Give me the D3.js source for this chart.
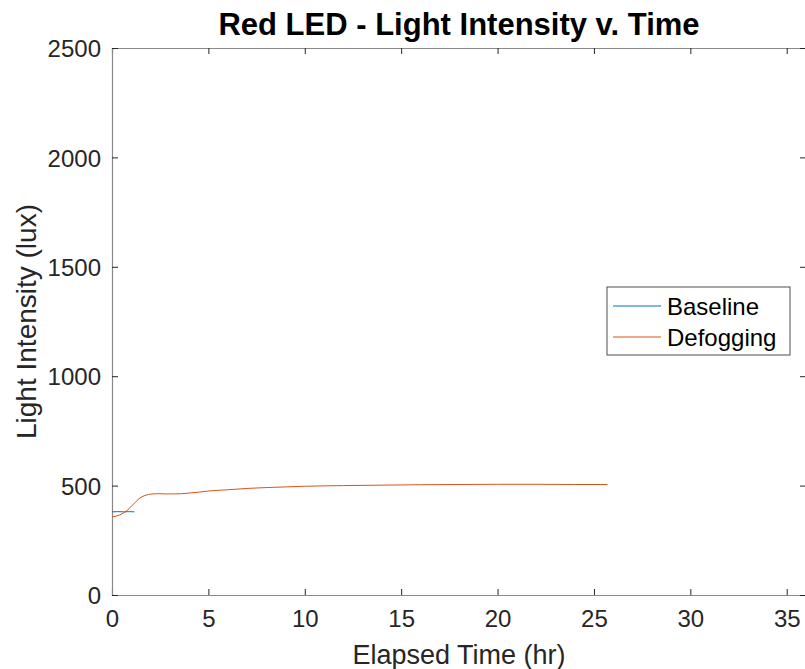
<!DOCTYPE html>
<html>
<head>
<meta charset="utf-8">
<script src="https://cdn.jsdelivr.net/npm/d3@7"></script>
<style>
  body { margin: 0; background: #fff; }
  text { font-family: "Liberation Sans", Arial, Helvetica, sans-serif; }
</style>
</head>
<body>
<script>
const baselineTime = [0, 0.3, 0.6, 0.9, 1.16];
const baselineLux = [380, 381, 380, 381, 380];

const defogTime = [0, 0.2, 0.4, 0.6, 0.8, 1.0, 1.2, 1.4, 1.6, 1.8, 2.0, 2.4, 2.8, 3.2, 3.6, 4.0, 4.5,
                   5, 6, 7, 8, 9, 10, 12, 14, 16, 18, 20, 22, 24, 25.7];
const defogLux = [357, 360, 366, 375, 388, 405, 423, 440, 451, 457, 461, 463, 462, 462, 463, 466, 470,
                  475, 481, 487, 491, 494, 497, 500, 502, 504, 505, 506, 506, 505, 505];

const xTicks = [0, 5, 10, 15, 20, 25, 30, 35];
const yTicks = [0, 500, 1000, 1500, 2000, 2500];
const seriesNames = ['Baseline', 'Defogging'];
const seriesColors = ['#0072BD', '#D95319'];

const width = 805, height = 669;
const margin = { left: 112, right: -1, top: 48, bottom: 74 };

const svg = d3.select('body').append('svg')
  .attr('width', width)
  .attr('height', height);

const x = d3.scaleLinear().domain([0, 36]).range([margin.left, width - margin.right]);
const y = d3.scaleLinear().domain([0, 2500]).range([height - margin.bottom, margin.top]);

const axisColor = '#262626';
const tickLen = 6;
const fmt = d3.format('d');

// axes, ticks pointing inward on all four sides
const xAxis = svg.append('g')
  .attr('transform', `translate(0,${y(0)})`)
  .call(d3.axisBottom(x).tickValues(xTicks).tickSize(-tickLen).tickPadding(15).tickFormat(fmt));
const xAxisTop = svg.append('g')
  .attr('transform', `translate(0,${y(2500)})`)
  .call(d3.axisTop(x).tickValues(xTicks).tickSize(-tickLen).tickFormat(''));
const yAxis = svg.append('g')
  .attr('transform', `translate(${x(0)},0)`)
  .call(d3.axisLeft(y).tickValues(yTicks).tickSize(-tickLen).tickPadding(11).tickFormat(fmt));
const yAxisRight = svg.append('g')
  .attr('transform', `translate(${x(36)},0)`)
  .call(d3.axisRight(y).tickValues(yTicks).tickSize(-tickLen).tickFormat(''));

[xAxis, xAxisTop, yAxis, yAxisRight].forEach((g) => {
  g.select('.domain').attr('stroke', '#8a8a8a').attr('stroke-width', 1.2);
  g.selectAll('.tick line').attr('stroke', axisColor);
  g.selectAll('.tick text')
    .attr('fill', axisColor)
    .style('font-size', '24px');
});
xAxis.selectAll('.tick text').attr('dy', '0.71em');
yAxis.selectAll('.tick text').attr('dy', '0.36em');

const line = d3.line()
  .x((d) => x(d[0]))
  .y((d) => y(d[1]))
  .curve(d3.curveMonotoneX);

const baseline = baselineTime.map((t, i) => [t, baselineLux[i]]);
const defog = defogTime.map((t, i) => [t, defogLux[i]]);

svg.append('path')
  .datum(baseline)
  .attr('fill', 'none')
  .attr('stroke', seriesColors[0])
  .attr('stroke-width', 1)
  .attr('d', line);

svg.append('path')
  .datum(defog)
  .attr('fill', 'none')
  .attr('stroke', seriesColors[1])
  .attr('stroke-width', 1)
  .attr('d', line);

// title and labels
const midX = (x(0) + x(36)) / 2;
svg.append('text')
  .attr('x', midX)
  .attr('y', 35)
  .attr('text-anchor', 'middle')
  .style('font-size', '31px')
  .style('font-weight', 'bold')
  .attr('fill', '#000')
  .text('Red LED - Light Intensity v. Time');

svg.append('text')
  .attr('x', midX)
  .attr('y', 664)
  .attr('text-anchor', 'middle')
  .style('font-size', '27px')
  .attr('fill', axisColor)
  .text('Elapsed Time (hr)');

svg.append('text')
  .attr('transform', `translate(36,${(y(0) + y(2500)) / 2}) rotate(-90)`)
  .attr('text-anchor', 'middle')
  .style('font-size', '28px')
  .attr('fill', axisColor)
  .text('Light Intensity (lux)');

// legend
const legend = svg.append('g').attr('transform', 'translate(607,287)');
legend.append('rect')
  .attr('width', 183)
  .attr('height', 68)
  .attr('fill', '#fff')
  .attr('stroke', '#4d4d4d')
  .attr('stroke-width', 1);

seriesNames.forEach((name, i) => {
  const ly = 19 + i * 31;
  legend.append('line')
    .attr('x1', 6).attr('x2', 54)
    .attr('y1', ly).attr('y2', ly)
    .attr('stroke', seriesColors[i])
    .attr('stroke-width', 1);
  legend.append('text')
    .attr('x', 60)
    .attr('y', ly)
    .attr('dy', '0.36em')
    .style('font-size', '24px')
    .attr('fill', '#000')
    .text(name);
});
</script>
</body>
</html>
